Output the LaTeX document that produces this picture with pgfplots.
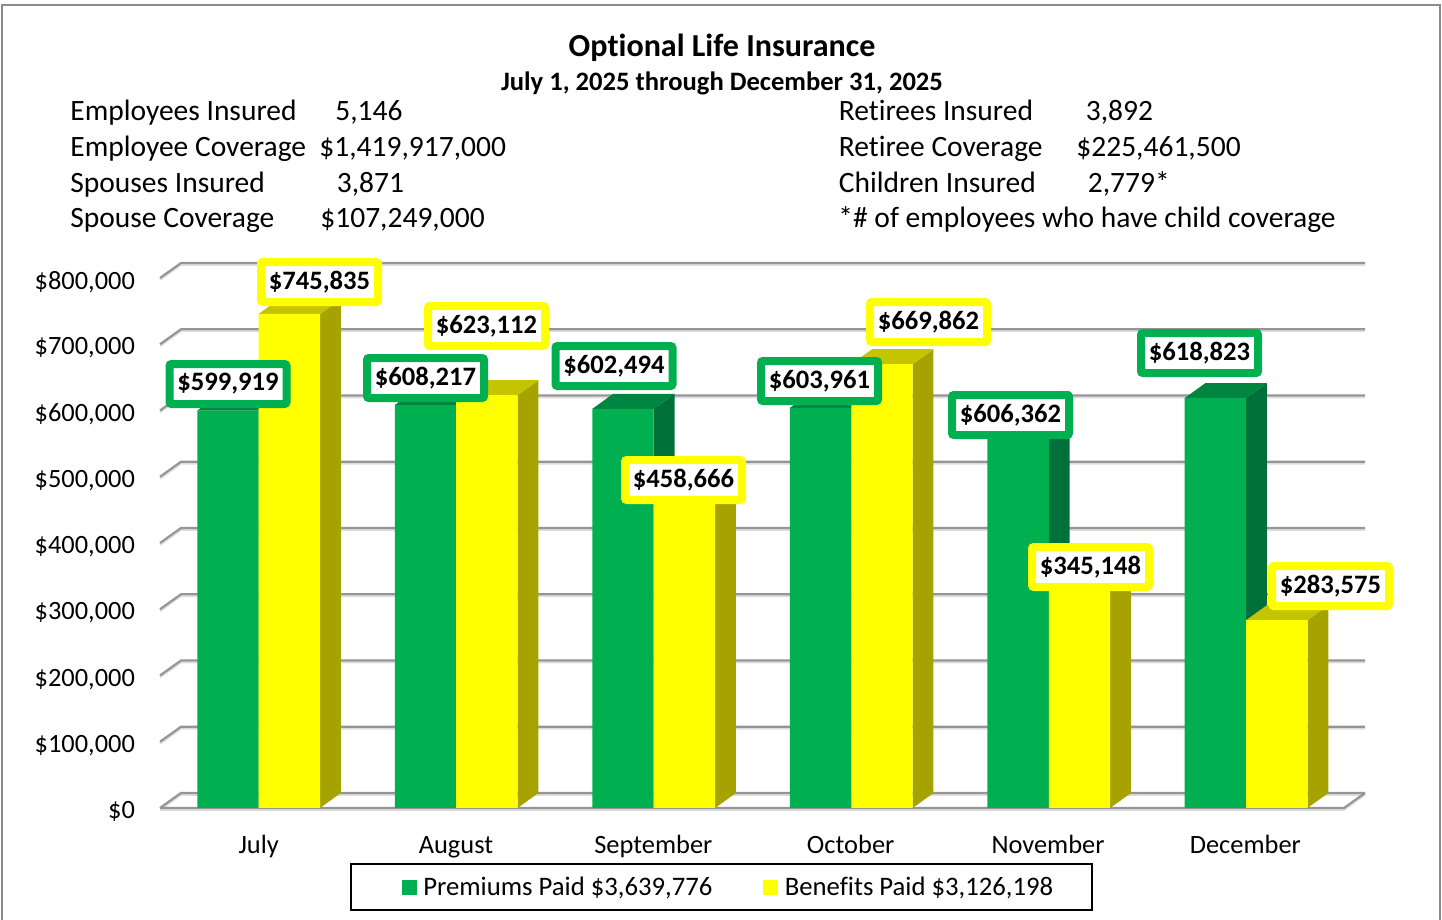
\documentclass[border=0pt]{standalone}
\usepackage{pgfplots}
\pgfplotsset{compat=1.18}
\usepackage{fontspec}
\setmainfont[Ligatures=CommonOff]{Carlito}
\definecolor{pgreen}{HTML}{00B050}
\definecolor{pgreenS}{HTML}{00703A}
\definecolor{pgreenT}{HTML}{008540}
\definecolor{byellow}{HTML}{FFFF00}
\definecolor{byellowS}{HTML}{A6A300}
\definecolor{byellowT}{HTML}{C4C400}
\definecolor{gridc}{HTML}{959595}
\definecolor{grids}{HTML}{DDDDDD}
\newcommand\ptxt[4][]{\node[anchor=base west,inner sep=0pt,font=\fontsize{14.75}{16}\selectfont,#1] at ({#2*0.5pt},{(920-#3)*0.5pt}) {#4};}
% depth faces of one bar: left x of front, value, top colour, side colour
\newcommand\depth[4]{%
  \pgfmathsetmacro\xa{#1}%
  \pgfmathsetmacro\xb{#1+0.3112}%
  \pgfmathsetmacro\xc{#1+0.3112+0.1054}%
  \pgfmathsetmacro\xd{#1+0.1054}%
  \addplot[forget plot,draw=none,fill=#4] coordinates {(\xb,0)(\xc,22642)(\xc,\the\numexpr#2+22642\relax)(\xb,#2)};
  \addplot[forget plot,draw=none,fill=#3] coordinates {(\xa,#2)(\xd,\the\numexpr#2+22642\relax)(\xc,\the\numexpr#2+22642\relax)(\xb,#2)};
}
\newcommand\gridl[1]{%
  \addplot[forget plot,grids,line width=0.9pt,yshift=-1pt] coordinates {(0,#1)(0.1064,\the\numexpr#1+22642\relax)(6.1064,\the\numexpr#1+22642\relax)};
  \addplot[forget plot,gridc,line width=1.1pt] coordinates {(0,#1)(0.1064,\the\numexpr#1+22642\relax)(6.1064,\the\numexpr#1+22642\relax)};
}
\newcommand\lab[4]{\node[draw=#4,fill=white,line width=4pt,rounded corners=1pt,minimum width=58.5pt,minimum height=20pt,inner sep=0pt,yshift=0pt,font=\fontsize{13.3}{15}\selectfont\bfseries] at (axis cs:#1,#2) {\raisebox{-1pt}{#3}};}
\begin{document}
\begin{tikzpicture}
\path[use as bounding box] (0,0) rectangle (721pt,460pt);
\draw[color=gray!90,line width=1pt] (1pt,0) -- (1pt,457.5pt) -- (720pt,457.5pt) -- (720pt,0);
\node[font=\fontsize{16.03}{18}\selectfont\bfseries,anchor=base,inner sep=0pt] at (361pt,{(920-57)*0.5pt}) {Optional Life Insurance};
\node[font=\fontsize{13.3}{15}\selectfont\bfseries,anchor=base,inner sep=0pt] at (361pt,{(920-90.5)*0.5pt}) {July 1, 2025 through December 31, 2025};
\ptxt{70}{121}{Employees Insured}
\ptxt{335}{121}{5,146}
\ptxt{70}{157}{Employee Coverage}
\ptxt{319}{157}{\$1,419,917,000}
\ptxt{70}{193}{Spouses Insured}
\ptxt{336.5}{193}{3,871}
\ptxt{70}{228}{Spouse Coverage}
\ptxt{320}{228}{\$107,249,000}
\ptxt{838.5}{121}{Retirees Insured}
\ptxt{1085.5}{121}{3,892}
\ptxt{838.5}{157}{Retiree Coverage}
\ptxt{1076}{157}{\$225,461,500}
\ptxt{838.5}{193}{Children Insured}
\ptxt{1087.5}{193}{2,779*}
\ptxt{838}{228}{*\# of employees who have child coverage}
\begin{axis}[
  at={(80pt,56pt)},anchor=south west,
  scale only axis,width=592pt,height=265pt,
  xmin=0,xmax=6,ymin=0,ymax=800000,
  clip=false,
  axis line style={draw=none},
  major tick length=0pt,
  xtick={0.5,1.5,2.5,3.5,4.5,5.5},
  xticklabels={July,August,September,October,November,December},
  ytick={0,100000,200000,300000,400000,500000,600000,700000,800000},
  scaled y ticks=false,
  yticklabel={\$\pgfmathprintnumber{\tick}},
  /pgf/number format/fixed,
  /pgf/number format/precision=0,
  /pgf/number format/1000 sep={,},
  /pgf/number format/assume math mode=true,
  ticklabel style={font=\fontsize{13.2}{15}\selectfont},
  yticklabel style={anchor=east,xshift=-9pt,yshift=-1.9pt},
  xticklabel style={anchor=base,yshift=-22.6pt},
  legend columns=2,
  legend style={at={(axis cs:2.8455,-119245)},anchor=center,draw=black,line width=0.9pt,
    inner xsep=18pt,inner ysep=5pt,minimum height=0pt,
    font=\fontsize{13.35}{15}\selectfont,
    /tikz/every even column/.append style={column sep=24pt},
    nodes={inner sep=1.5pt,anchor=base west}},
  legend cell align=left,
]
\gridl{100000}
\gridl{200000}
\gridl{300000}
\gridl{400000}
\gridl{500000}
\gridl{600000}
\gridl{700000}
\gridl{800000}
\gridl{0}
\addplot[forget plot,grids,line width=0.9pt,yshift=-1pt] coordinates {(0,0)(6,0)(6.1064,22642)};
\addplot[forget plot,gridc,line width=1.1pt] coordinates {(0,0)(6,0)(6.1064,22642)};
% premiums
\depth{0.1888}{599919}{pgreenT}{pgreenS}
\depth{1.1898}{608217}{pgreenT}{pgreenS}
\depth{2.1908}{602494}{pgreenT}{pgreenS}
\depth{3.1918}{603961}{pgreenT}{pgreenS}
\depth{4.1928}{606362}{pgreenT}{pgreenS}
\depth{5.1928}{618823}{pgreenT}{pgreenS}
\addplot[ybar,bar width=30.7pt,bar shift=-15.35pt,draw=none,fill=pgreen,
  legend image code/.code={\path[draw=none,fill=none] (-7.5pt,0pt) rectangle (9.25pt,0.1pt);\fill[pgreen] (0pt,-0.5pt) rectangle (7.5pt,7pt);}]
  coordinates {(0.5,599919)(1.501,608217)(2.502,602494)(3.503,603961)(4.504,606362)(5.504,618823)};
\addlegendentry{\raisebox{-0.5pt}{Premiums Paid \$3,639,776}}
% benefits
\depth{0.5}{745835}{byellowT}{byellowS}
\depth{1.501}{623112}{byellowT}{byellowS}
\depth{2.502}{458666}{byellowT}{byellowS}
\depth{3.503}{669862}{byellowT}{byellowS}
\depth{4.504}{345148}{byellowT}{byellowS}
\depth{5.504}{283575}{byellowT}{byellowS}
\addplot[ybar,bar width=30.7pt,bar shift=15.35pt,draw=none,fill=byellow,
  legend image code/.code={\path[draw=none,fill=none] (0pt,0pt) rectangle (9.25pt,0.1pt);\fill[byellow] (0pt,-0.5pt) rectangle (7.5pt,7pt);}]
  coordinates {(0.5,745835)(1.501,623112)(2.502,458666)(3.503,669862)(4.504,345148)(5.504,283575)};
\addlegendentry{\raisebox{-0.5pt}{Benefits Paid \$3,126,198}}
\lab{0.3446}{640000}{\$599,919}{pgreen}
\lab{0.8083}{793962}{\$745,835}{byellow}
\lab{1.3455}{649057}{\$608,217}{pgreen}
\lab{1.6546}{727547}{\$623,112}{byellow}
\lab{2.3007}{667170}{\$602,494}{pgreen}
\lab{2.6529}{495094}{\$458,666}{byellow}
\lab{3.3421}{644528}{\$603,961}{pgreen}
\lab{3.8945}{733585}{\$669,862}{byellow}
\lab{4.3100}{593208}{\$606,362}{pgreen}
\lab{4.7155}{363774}{\$345,148}{byellow}
\lab{5.2678}{686792}{\$618,823}{pgreen}
\lab{5.9317}{335094}{\$283,575}{byellow}
\end{axis}
\end{tikzpicture}
\end{document}
